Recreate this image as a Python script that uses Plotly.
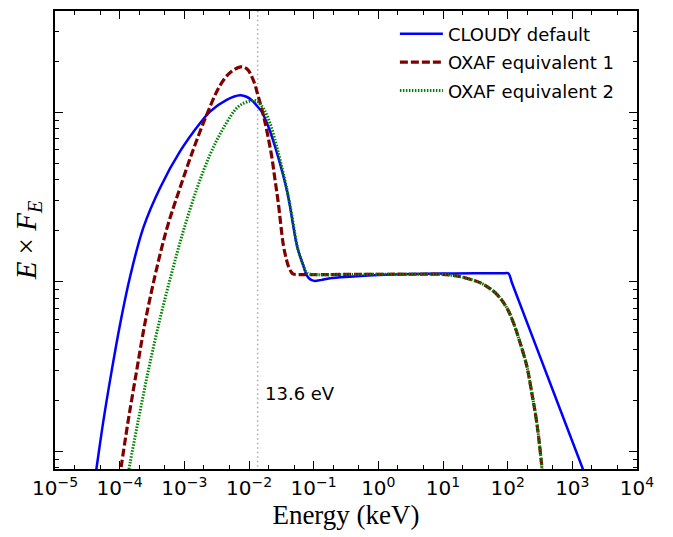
import numpy as np
import plotly.graph_objects as go

# ---- data (log10 of energy in keV and log10 of E*F_E, arbitrary units)
cloudy_logE = [-4.389, -4.355, -4.253, -4.123, -3.995, -3.84, -3.635, -3.376, -3.067, -2.758,
               -2.603, -2.345, -2.139, -2.03, -1.934, -1.85, -1.804, -1.702, -1.598, -1.495,
               -1.417, -1.366, -1.32, -1.263, -1.21, -1.16, -1.12, -1.083, -1.03, -0.98,
               -0.88, -0.748, -0.44, 0.0, 0.5, 1.0, 1.5, 1.95, 2.01, 2.07,
               2.7, 3.3]
cloudy_logF = [-1.18, -1.09, -0.822, -0.523, -0.252, 0.029, 0.319, 0.554, 0.769, 0.935,
               1.004, 1.073, 1.100, 1.090, 1.063, 1.025, 1.004, 0.916, 0.799, 0.662,
               0.544, 0.446, 0.34, 0.221, 0.15, 0.094, 0.05, 0.025, 0.01, 0.006,
               0.012, 0.022, 0.031, 0.040, 0.046, 0.049, 0.051, 0.051, 0.051, -0.009,
               -0.64, -1.24]

oxaf1_logE = [-4.003, -3.969, -3.867, -3.737, -3.608, -3.454, -3.273, -3.067, -2.861, -2.654,
              -2.449, -2.294, -2.128, -2.03, -1.934, -1.856, -1.779, -1.717, -1.649, -1.598,
              -1.547, -1.47, -1.42, -1.392, -1.35, -1.32, -1.2, -0.5, 0.0, 0.5,
              1.108, 1.417, 1.623, 1.829, 1.984, 2.087, 2.19, 2.294, 2.371, 2.448,
              2.51, 2.53, 2.55]
oxaf1_logF = [-1.157, -1.07, -0.816, -0.523, -0.241, 0.035, 0.311, 0.554, 0.781, 0.985,
              1.157, 1.233, 1.268, 1.255, 1.19, 1.092, 0.985, 0.877, 0.74, 0.603,
              0.466, 0.221, 0.13, 0.094, 0.06, 0.047, 0.043, 0.044, 0.045, 0.045,
              0.041, 0.016, -0.014, -0.072, -0.151, -0.239, -0.356, -0.493, -0.65, -0.825,
              -1.021, -1.10, -1.20]

oxaf2_logE = [-3.879, -3.84, -3.712, -3.557, -3.376, -3.195, -3.016, -2.809, -2.603, -2.397,
              -2.166, -1.985, -1.881, -1.779, -1.675, -1.572, -1.47, -1.392, -1.34, -1.237,
              -1.16, -1.11, -1.05, -0.5, 0.0, 0.5, 1.108, 1.417, 1.623, 1.829,
              1.984, 2.087, 2.19, 2.294, 2.371, 2.448, 2.51, 2.53, 2.55]
oxaf2_logF = [-1.157, -1.07, -0.816, -0.523, -0.217, 0.053, 0.299, 0.546, 0.750, 0.906,
              1.033, 1.066, 1.066, 1.023, 0.935, 0.799, 0.642, 0.505, 0.398, 0.182,
              0.10, 0.055, 0.046, 0.044, 0.045, 0.045, 0.041, 0.016, -0.014, -0.072,
              -0.151, -0.239, -0.356, -0.493, -0.65, -0.825, -1.021, -1.10, -1.20]

hydrogen_edge_keV = 0.0136
edge_label = "13.6 eV"
series_names = ["CLOUDY default", "OXAF equivalent 1", "OXAF equivalent 2"]

x_tick_values = [1e-5, 1e-4, 1e-3, 1e-2, 1e-1, 1e0, 1e1, 1e2, 1e3, 1e4]
x_tick_labels = ["10<sup>−5</sup>", "10<sup>−4</sup>", "10<sup>−3</sup>", "10<sup>−2</sup>",
                 "10<sup>−1</sup>", "10<sup>0</sup>", "10<sup>1</sup>", "10<sup>2</sup>",
                 "10<sup>3</sup>", "10<sup>4</sup>"]

x_range_log = [-5, 4]
y_range_log = [-1.103, 1.597]


def lin(v):
    return [10 ** a for a in v]


fig = go.Figure()

# vertical marker at 13.6 eV
fig.add_trace(go.Scatter(x=[hydrogen_edge_keV, hydrogen_edge_keV], y=[1e-3, 1e3], mode="lines",
                         line=dict(color="#aaaaaa", width=1.5, dash="1.5px,3px"),
                         showlegend=False, hoverinfo="skip"))

fig.add_trace(go.Scatter(x=lin(cloudy_logE), y=lin(cloudy_logF), mode="lines", name=series_names[0],
                         line=dict(color="#0000ff", width=2.5, shape="spline", smoothing=1.0),
                         legendgroup="a"))
fig.add_trace(go.Scatter(x=lin(oxaf1_logE), y=lin(oxaf1_logF), mode="lines", name=series_names[1],
                         line=dict(color="#800000", width=3.2, dash="8px,3px", shape="spline", smoothing=1.0),
                         legendgroup="b"))
fig.add_trace(go.Scatter(x=lin(oxaf2_logE), y=lin(oxaf2_logF), mode="lines", name=series_names[2],
                         line=dict(color="#008000", width=3, dash="1.5px,1.5px", shape="spline", smoothing=1.0),
                         legendgroup="c"))

axis_common = dict(
    type="log", showgrid=False, zeroline=False,
    showline=True, linecolor="black", linewidth=2, mirror="ticks",
    ticks="inside", ticklen=8, tickwidth=1, tickcolor="black",
    minor=dict(ticks="inside", ticklen=4, tickwidth=1, tickcolor="black", showgrid=False),
)

fig.update_xaxes(**axis_common, range=x_range_log, tickmode="array",
                 tickvals=x_tick_values, ticktext=x_tick_labels,
                 tickfont=dict(family="DejaVu Sans", size=20, color="black"),
                 title=dict(text="Energy (keV)", font=dict(family="Liberation Serif", size=27, color="black"),
                            standoff=4))
fig.update_yaxes(**axis_common, range=y_range_log, dtick=1, showticklabels=False,
                 title=dict(text="<i>E</i> × <i>F<sub>E</sub></i>",
                            font=dict(family="Liberation Serif", size=29, color="black"), standoff=8))

fig.add_annotation(x=np.log10(hydrogen_edge_keV), y=-0.658, xref="x", yref="y", text=edge_label,
                   showarrow=False, xanchor="left", yanchor="middle", xshift=5,
                   font=dict(family="DejaVu Sans", size=18, color="black"))

fig.update_layout(
    width=673, height=537,
    margin=dict(l=55, r=36, t=9, b=68),
    paper_bgcolor="white", plot_bgcolor="white",
    legend=dict(x=0.584, y=0.99, xanchor="left", yanchor="top", bgcolor="rgba(0,0,0,0)",
                font=dict(family="DejaVu Sans", size=18, color="black"),
                tracegroupgap=2, itemwidth=43),
    showlegend=True,
)

fig.write_html("out.html")
